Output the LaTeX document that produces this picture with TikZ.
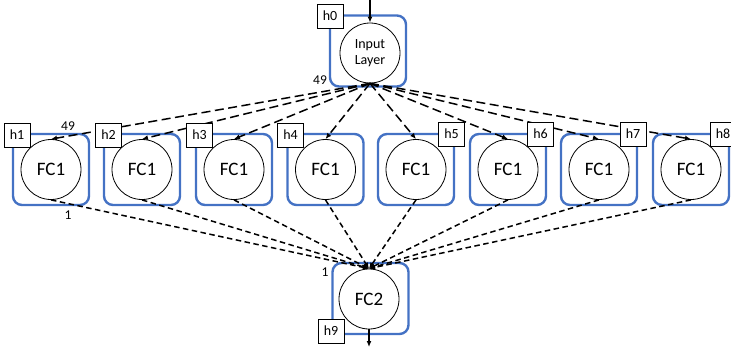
\documentclass[tikz,border=0pt]{standalone}
\usepackage{fontspec}
\setmainfont{Carlito}
\usetikzlibrary{arrows.meta}
\definecolor{boxblue}{RGB}{68,114,196}
\begin{document}
\begin{tikzpicture}[x=1pt,y=-1pt,
  framebox/.style={draw=boxblue,line width=2.4pt,rounded corners=9pt,minimum width=76pt,minimum height=71pt,inner sep=0pt},
  neuron/.style={circle,draw,line width=0.8pt,minimum size=60pt,inner sep=0pt,font=\fontsize{19}{21}\selectfont},
  tag/.style={draw,fill=white,line width=0.8pt,minimum width=26pt,minimum height=24pt,inner sep=0pt,font=\fontsize{14}{16}\selectfont},
  num/.style={font=\fontsize{13.5}{15}\selectfont,inner sep=0pt},
  tip/.style={-{Latex[length=6pt,width=5pt]}},
  upconn/.style={tip,line width=1.5pt,dash pattern=on 9pt off 4.5pt},
  loconn/.style={tip,line width=1.5pt,dash pattern=on 5.5pt off 3.5pt},
  solidconn/.style={tip,line width=1.3pt}
]
\useasboundingbox (0,0) rectangle (731,348);
% input layer
\node[framebox] (bin) at (368,51) {};
\node[neuron,font=\fontsize{14}{16.5}\selectfont,align=center] (in) at (370,53) {Input\\Layer};
% FC1 row
\foreach \i/\x in {1/51,2/142,3/234,4/325.5,5/416,6/508,7/599,8/691}{
  \node[framebox] (b\i) at (\x,169.5) {};
  \node[neuron] (f\i) at (\x,169.5) {FC1};
}
% output
\node[framebox] (bout) at (370.5,298.5) {};
\node[neuron] (out) at (369,299) {FC2};
% connectors
\coordinate (topin) at (370,0);
\coordinate (botout) at (369,347);
\draw[solidconn] (topin) -- (in.north);
\draw[solidconn] (out.south) -- (botout);
\foreach \i in {1,...,8}{
  \draw[upconn] (in.south) -- (f\i.north);
  \draw[loconn] (f\i.south) -- (out.north);
}
% tags
\node[tag] (h0) at (330,16) {h0};
\node[tag] (h1) at (17,135) {h1};
\node[tag] (h2) at (108.5,135) {h2};
\node[tag] (h3) at (199.5,135) {h3};
\node[tag] (h4) at (290.5,135) {h4};
\node[tag] (h5) at (451.5,134) {h5};
\node[tag] (h6) at (540.5,134) {h6};
\node[tag] (h7) at (633,134) {h7};
\node[tag] (h8) at (723,134) {h8};
\node[tag] (h9) at (331,331) {h9};
% numbers
\node[num] (n49a) at (320,80) {49};
\node[num] (n49b) at (68,126) {49};
\node[num] (n1a) at (68,215) {1};
\node[num] (n1b) at (325,272) {1};
\end{tikzpicture}
\end{document}
